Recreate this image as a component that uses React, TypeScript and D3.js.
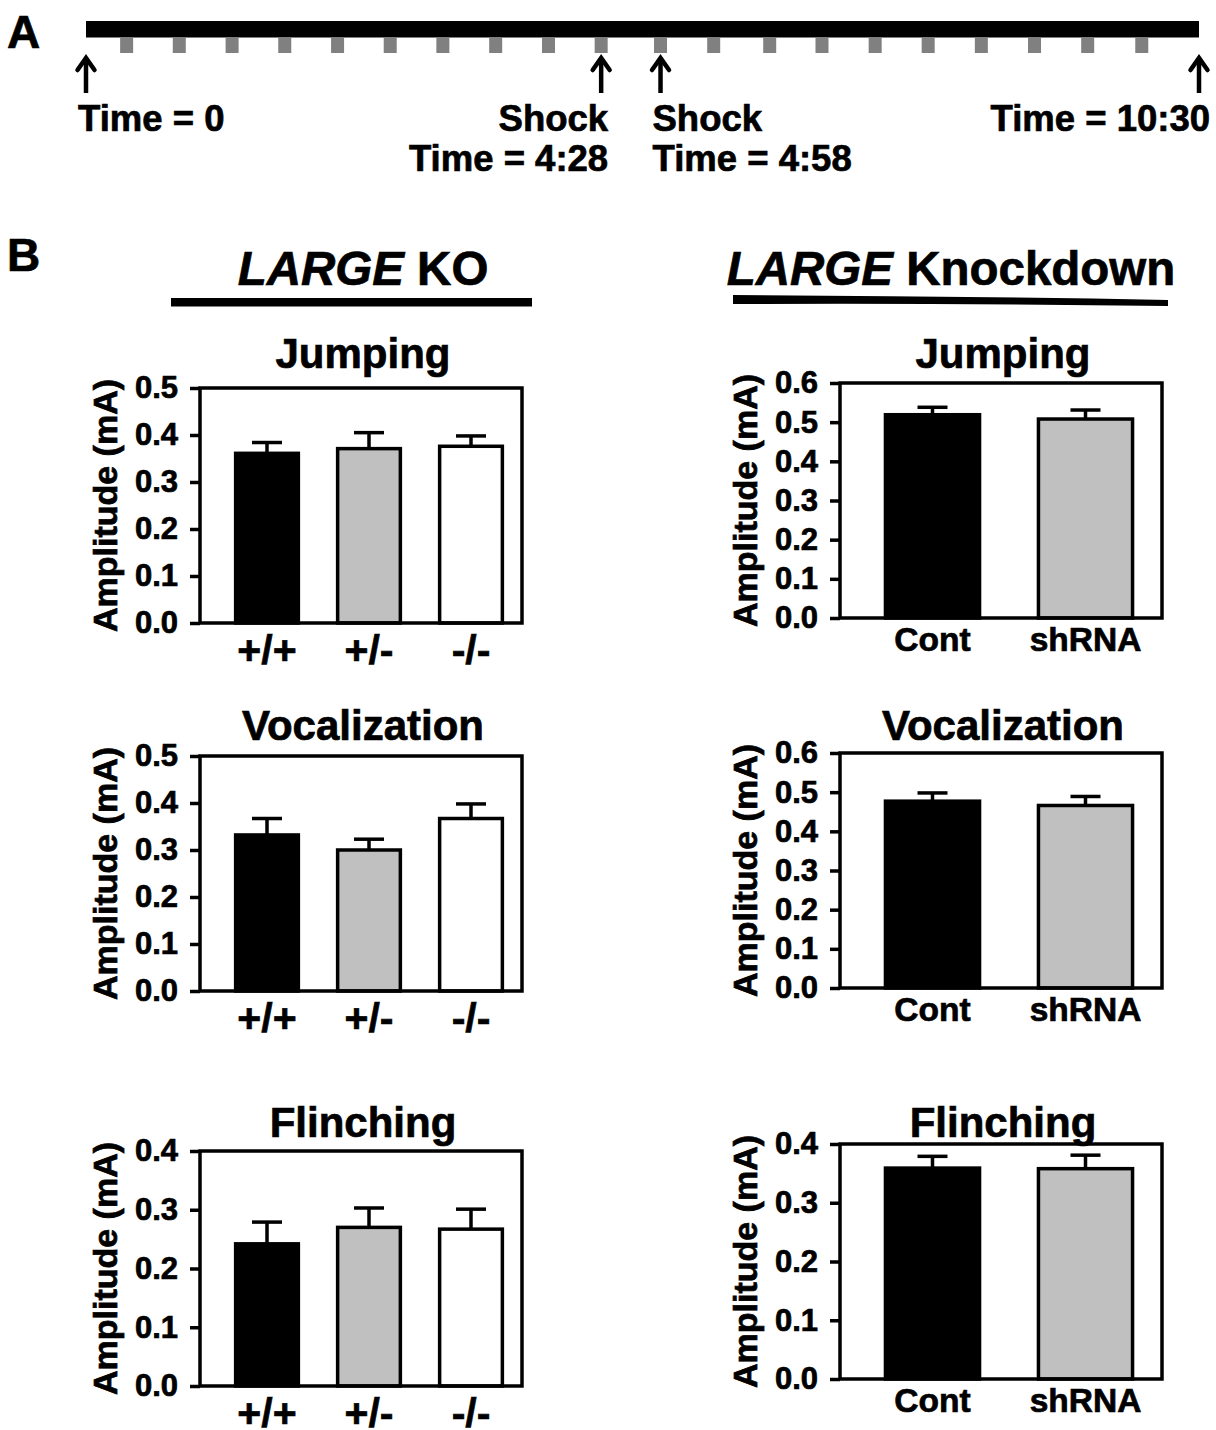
import { useEffect, useRef } from 'react'
import * as d3 from 'd3'

const W = 1216
const H = 1430
const FONT = '"Liberation Sans", Arial, Helvetica, sans-serif'
const TEXT_STROKE = 0.7

// Panel A: test timeline, seconds
const sessionLength = 630
const shockTimes = [23, 52.8, 82.7, 112.5, 142.4, 172.2, 202, 231.9, 261.8, 291.6, 325.2, 355.3, 387, 416.6, 446.7, 476.7, 506.8, 536.9, 567, 597.6]
const arrowTimes = [0, 291.6, 325.2, 630]
const arrowLabels = [['Time = 0'], ['Shock', 'Time = 4:28'], ['Shock', 'Time = 4:58'], ['Time = 10:30']]
const arrowAnchors = ['start', 'end', 'start', 'end']

// Panel B
const koGroups = ['+/+', '+/-', '-/-']
const kdGroups = ['Cont', 'shRNA']
const koFills = ['#000000', '#c0c0c0', '#ffffff']
const kdFills = ['#000000', '#c0c0c0']
const behaviours = ['Jumping', 'Vocalization', 'Flinching']
const yLabel = 'Amplitude (mA)'

const koMeans = [
  [0.361, 0.371, 0.376],
  [0.332, 0.300, 0.367],
  [0.242, 0.270, 0.267],
]
const koSem = [
  [0.023, 0.034, 0.022],
  [0.035, 0.023, 0.031],
  [0.037, 0.033, 0.034],
]
const koMax = [0.5, 0.5, 0.4]

const kdMeans = [
  [0.519, 0.508],
  [0.477, 0.466],
  [0.359, 0.358],
]
const kdSem = [
  [0.019, 0.023],
  [0.021, 0.023],
  [0.020, 0.023],
]
const kdMax = [0.6, 0.6, 0.4]

// layout
const PLOT_W = 322
const PLOT_H = 235
const koLeft = 200
const kdLeft = 840
const koTops = [388, 756, 1151]
const kdTops = [383, 753, 1144]
const titleBaselines = [368, 740, 1137]

type Panel = {
  left: number
  top: number
  title: string
  titleY: number
  groups: string[]
  fills: string[]
  means: number[]
  sem: number[]
  yMax: number
  catFont: number
  catDy: number
}

function boldText(sel: any) {
  return sel
    .attr('font-weight', 'bold')
    .attr('fill', '#000')
    .attr('stroke', '#000')
    .attr('stroke-width', TEXT_STROKE)
}

function drawPanel(svg: d3.Selection<SVGSVGElement, unknown, null, undefined>, p: Panel) {
  const g = svg.append('g').attr('transform', `translate(${p.left},${p.top})`)
  const y = d3.scaleLinear().domain([0, p.yMax]).range([PLOT_H, 0])
  const x = d3.scaleBand<string>()
    .domain(p.groups)
    .range([16, PLOT_W])
    .paddingInner(0.385)
    .paddingOuter(0.1925)

  // title
  g.append('text')
    .attr('x', PLOT_W / 2 + 2)
    .attr('y', p.titleY - p.top)
    .attr('text-anchor', 'middle')
    .attr('font-size', 42)
    .call(boldText)
    .text(p.title)

  // y axis ticks
  const ticks = d3.range(0, Math.round(p.yMax * 10) + 1).map((i) => i / 10)
  g.append('g')
    .call(d3.axisLeft(y).tickValues(ticks).tickFormat(d3.format('.1f')).tickSize(10).tickPadding(12).tickSizeOuter(0))
    .call((a) => a.select('.domain').remove())
    .call((a) => a.selectAll('.tick line').attr('stroke', '#000').attr('stroke-width', 3.5))
    .call((a) => a.selectAll('.tick text')
      .attr('font-size', 31)
      .attr('font-family', FONT)
      .call(boldText))

  g.append('text')
    .attr('transform', `translate(-83,${PLOT_H / 2}) rotate(-90)`)
    .attr('text-anchor', 'middle')
    .attr('font-size', 34)
    .call(boldText)
    .text(yLabel)

  // bars
  p.groups.forEach((grp, i) => {
    const bx = x(grp) ?? 0
    const cx = bx + x.bandwidth() / 2
    const top = y(p.means[i])
    const errTop = y(p.means[i] + p.sem[i])
    g.append('line')
      .attr('x1', cx).attr('x2', cx)
      .attr('y1', top).attr('y2', errTop)
      .attr('stroke', '#000').attr('stroke-width', 3.5)
    g.append('line')
      .attr('x1', cx - 15).attr('x2', cx + 15)
      .attr('y1', errTop).attr('y2', errTop)
      .attr('stroke', '#000').attr('stroke-width', 3.5)
    g.append('rect')
      .attr('x', bx)
      .attr('y', top)
      .attr('width', x.bandwidth())
      .attr('height', PLOT_H - top)
      .attr('fill', p.fills[i])
      .attr('stroke', '#000')
      .attr('stroke-width', 3.5)
    g.append('text')
      .attr('x', cx)
      .attr('y', PLOT_H + p.catDy)
      .attr('text-anchor', 'middle')
      .attr('font-size', p.catFont)
      .call(boldText)
      .text(grp)
  })

  // frame
  g.append('rect')
    .attr('width', PLOT_W)
    .attr('height', PLOT_H)
    .attr('fill', 'none')
    .attr('stroke', '#000')
    .attr('stroke-width', 3.5)
}

export default function App() {
  const svgRef = useRef<SVGSVGElement>(null)

  useEffect(() => {
    if (!svgRef.current) return
    const svg = d3.select(svgRef.current)
    svg.selectAll('*').remove()
    svg.attr('font-family', FONT).attr('fill', '#000')

    // ---- Panel A ----
    svg.append('text').attr('x', 7).attr('y', 48)
      .attr('font-size', 46).call(boldText).text('A')

    const tx = d3.scaleLinear().domain([0, sessionLength]).range([86, 1199])

    svg.append('rect')
      .attr('x', tx(0)).attr('y', 21)
      .attr('width', tx(sessionLength) - tx(0)).attr('height', 16.5)
      .attr('fill', '#000')

    svg.append('g').selectAll('rect')
      .data(shockTimes)
      .join('rect')
      .attr('x', (t) => tx(t) - 6.5)
      .attr('y', 37.5)
      .attr('width', 13)
      .attr('height', 15.5)
      .attr('fill', '#808080')

    arrowTimes.forEach((t, i) => {
      const ax = tx(t)
      svg.append('line')
        .attr('x1', ax).attr('x2', ax).attr('y1', 59).attr('y2', 93)
        .attr('stroke', '#000').attr('stroke-width', 4.5)
      svg.append('path')
        .attr('d', `M${ax - 8.5},${70} L${ax},${58} L${ax + 8.5},${70}`)
        .attr('fill', 'none').attr('stroke', '#000').attr('stroke-width', 4.5)
        .attr('stroke-linecap', 'round').attr('stroke-linejoin', 'miter')
      const anchor = arrowAnchors[i]
      const lx = anchor === 'start' ? ax - 8 : ax + (i === arrowTimes.length - 1 ? 11 : 7)
      const lines = arrowLabels[i]
      lines.forEach((line, j) => {
        svg.append('text')
          .attr('x', lx)
          .attr('y', 131 + j * 40)
          .attr('text-anchor', anchor)
          .attr('font-size', 36.5)
          .call(boldText)
          .text(line)
      })
    })

    // ---- Panel B ----
    svg.append('text').attr('x', 7).attr('y', 271)
      .attr('font-size', 46).call(boldText).text('B')

    const koHead = svg.append('text').attr('x', 363).attr('y', 285)
      .attr('text-anchor', 'middle').attr('font-size', 47.5).call(boldText)
    koHead.append('tspan').attr('font-style', 'italic').text('LARGE')
    koHead.append('tspan').text(' KO')
    svg.append('rect').attr('x', 171).attr('y', 298).attr('width', 361).attr('height', 8.5).attr('fill', '#000')

    const kdHead = svg.append('text').attr('x', 951).attr('y', 285)
      .attr('text-anchor', 'middle').attr('font-size', 47.5).call(boldText)
    kdHead.append('tspan').attr('font-style', 'italic').text('LARGE')
    kdHead.append('tspan').text(' Knockdown')
    svg.append('path')
      .attr('d', 'M733,295 Q950,296 1168,300 L1168,306 Q950,303 733,304 Z')
      .attr('fill', '#000')

    behaviours.forEach((b, i) => {
      drawPanel(svg as any, {
        left: koLeft, top: koTops[i], title: b, titleY: titleBaselines[i],
        groups: koGroups, fills: koFills, means: koMeans[i], sem: koSem[i], yMax: koMax[i],
        catFont: 41, catDy: 41,
      })
      drawPanel(svg as any, {
        left: kdLeft, top: kdTops[i], title: b, titleY: titleBaselines[i],
        groups: kdGroups, fills: kdFills, means: kdMeans[i], sem: kdSem[i], yMax: kdMax[i],
        catFont: 33.5, catDy: 33,
      })
    })
  }, [])

  return (
    <svg
      ref={svgRef}
      width={W}
      height={H}
      viewBox={`0 0 ${W} ${H}`}
      style={{ position: 'absolute', left: 0, top: 0, background: '#fff', display: 'block' }}
    />
  )
}
